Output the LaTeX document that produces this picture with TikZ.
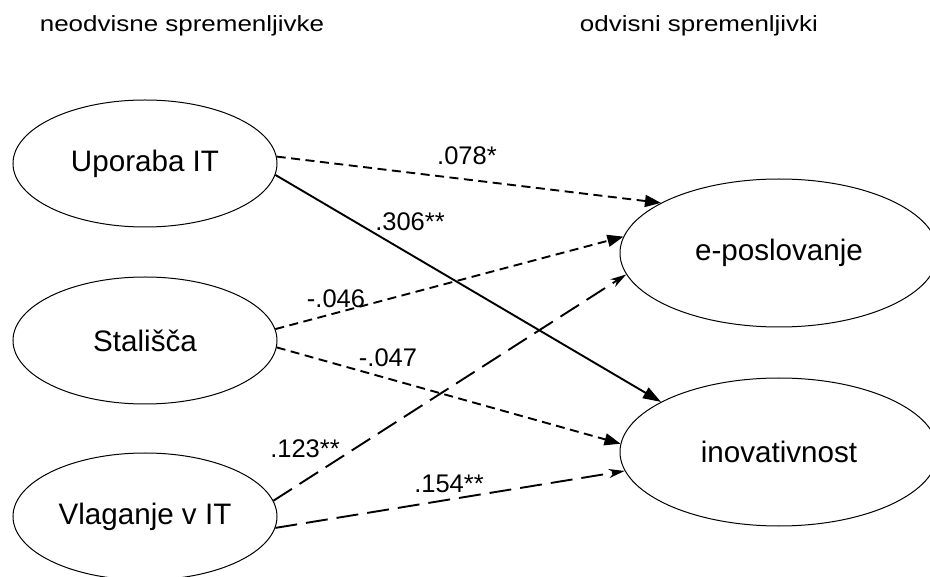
\documentclass[tikz,border=0pt]{standalone}
\usepackage{fontspec}
\setmainfont{Liberation Sans}
\usetikzlibrary{shapes.geometric,arrows.meta}

\tikzset{
  var/.style={ellipse, draw, line width=1pt, inner sep=0pt,
              font=\fontsize{29.6}{34}\selectfont},
  indep/.style={var, minimum width=264pt, minimum height=127pt},
  dep/.style={var, minimum width=318pt, minimum height=148pt},
  coef/.style={inner sep=0pt, font=\fontsize{25.5}{30}\selectfont},
  header/.style={inner sep=0pt, anchor=base, font=\fontsize{22}{26}\selectfont},
  path/.style={line width=1.9pt},
  shortdash/.style={path, dash pattern=on 9pt off 5.5pt,
                    -{Triangle[length=16pt, width=12pt]}},
  longdash/.style={path, dash pattern=on 22pt off 9pt,
                   -{Stealth[length=16pt, width=9pt, inset=5pt]}},
  solidpath/.style={path, -{Triangle[length=18pt, width=12pt]}},
}

\begin{document}
\begin{tikzpicture}[x=1pt, y=-1pt]
  \useasboundingbox (0,0) rectangle (930,577);
  \clip (0,0) rectangle (930,577);

  % column headings
  \node[header] (hl) at (182,32) {\scalebox{1.18}[1]{neodvisne spremenljivke}};
  \node[header] (hr) at (699,32) {\scalebox{1.18}[1]{odvisni spremenljivki}};

  % independent variables
  \node[indep] (up) at (145,163.5) {Uporaba IT};
  \node[indep] (st) at (145,340.5) {Stališča};
  \node[indep] (vl) at (145,516.5) {Vlaganje v IT};

  % dependent variables
  \node[dep] (ep) at (779,253) {e-poslovanje};
  \node[dep] (in) at (779,452) {inovativnost};

  % paths
  \draw[shortdash] (up.3)    -- (ep.157.7);
  \draw[solidpath] (up.-5)   -- (in.157.5);
  \draw[shortdash] (st.5.5)  -- (ep.174.5);
  \draw[shortdash] (st.-3.3) -- (in.177.5);
  \draw[longdash]  (vl.7.4)  -- (ep.188.1);
  \draw[longdash]  (vl.-5)   -- (in.187.4);

  % path coefficients
  \node[coef] (c1) at (467,156) {.078*};
  \node[coef] (c2) at (410,222) {.306**};
  \node[coef] (c3) at (336,299) {-.046};
  \node[coef] (c4) at (388,358) {-.047};
  \node[coef] (c5) at (305,449) {.123**};
  \node[coef] (c6) at (449,484) {.154**};
\end{tikzpicture}
\end{document}
